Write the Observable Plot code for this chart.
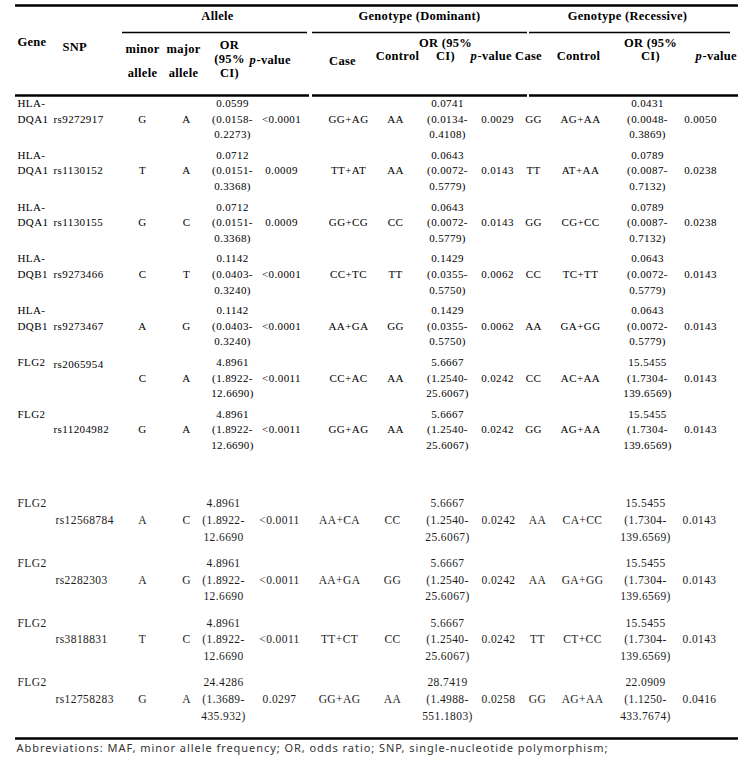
<!DOCTYPE html>
<html><head><meta charset="utf-8">
<script src="https://cdn.jsdelivr.net/npm/d3@7"></script>
<script src="https://cdn.jsdelivr.net/npm/@observablehq/plot@0.6"></script>
<style>body{margin:0;background:#fff} svg{display:block}</style>
</head><body><div id="chart"></div>
<script>
// ---------- data ----------
const genes = ["HLA-DQA1","HLA-DQA1","HLA-DQA1","HLA-DQB1","HLA-DQB1","FLG2","FLG2","FLG2","FLG2","FLG2","FLG2"];
const snps = ["rs9272917","rs1130152","rs1130155","rs9273466","rs9273467","rs2065954","rs11204982","rs12568784","rs2282303","rs3818831","rs12758283"];
const minorAllele = ["G","T","G","C","A","C","G","A","A","T","G"];
const majorAllele = ["A","A","C","T","G","A","A","C","G","C","A"];
const alleleOR = ["0.0599","0.0712","0.0712","0.1142","0.1142","4.8961","4.8961","4.8961","4.8961","4.8961","24.4286"];
const alleleCILow = ["(0.0158-","(0.0151-","(0.0151-","(0.0403-","(0.0403-","(1.8922-","(1.8922-","(1.8922-","(1.8922-","(1.8922-","(1.3689-"];
const alleleCIHigh = ["0.2273)","0.3368)","0.3368)","0.3240)","0.3240)","12.6690)","12.6690)","12.6690","12.6690","12.6690","435.932)"];
const alleleP = ["<0.0001","0.0009","0.0009","<0.0001","<0.0001","<0.0011","<0.0011","<0.0011","<0.0011","<0.0011","0.0297"];
const domCase = ["GG+AG","TT+AT","GG+CG","CC+TC","AA+GA","CC+AC","GG+AG","AA+CA","AA+GA","TT+CT","GG+AG"];
const domControl = ["AA","AA","CC","TT","GG","AA","AA","CC","GG","CC","AA"];
const domOR = ["0.0741","0.0643","0.0643","0.1429","0.1429","5.6667","5.6667","5.6667","5.6667","5.6667","28.7419"];
const domCILow = ["(0.0134-","(0.0072-","(0.0072-","(0.0355-","(0.0355-","(1.2540-","(1.2540-","(1.2540-","(1.2540-","(1.2540-","(1.4988-"];
const domCIHigh = ["0.4108)","0.5779)","0.5779)","0.5750)","0.5750)","25.6067)","25.6067)","25.6067)","25.6067)","25.6067)","551.1803)"];
const domP = ["0.0029","0.0143","0.0143","0.0062","0.0062","0.0242","0.0242","0.0242","0.0242","0.0242","0.0258"];
const recCase = ["GG","TT","GG","CC","AA","CC","GG","AA","AA","TT","GG"];
const recControl = ["AG+AA","AT+AA","CG+CC","TC+TT","GA+GG","AC+AA","AG+AA","CA+CC","GA+GG","CT+CC","AG+AA"];
const recOR = ["0.0431","0.0789","0.0789","0.0643","0.0643","15.5455","15.5455","15.5455","15.5455","15.5455","22.0909"];
const recCILow = ["(0.0048-","(0.0087-","(0.0087-","(0.0072-","(0.0072-","(1.7304-","(1.7304-","(1.7304-","(1.7304-","(1.7304-","(1.1250-"];
const recCIHigh = ["0.3869)","0.7132)","0.7132)","0.5779)","0.5779)","139.6569)","139.6569)","139.6569)","139.6569)","139.6569)","433.7674)"];
const recP = ["0.0050","0.0238","0.0238","0.0143","0.0143","0.0143","0.0143","0.0143","0.0143","0.0143","0.0416"];

const groupHeaders = ["Allele","Genotype (Dominant)","Genotype (Recessive)"];
const columnHeaders = [["Gene"],["SNP"],["minor","allele"],["major","allele"],["OR","(95%","CI)"],["p-value"],["Case"],["Control"],["OR (95%","CI)"],["p-value"],["Case"],["Control"],["OR (95%","CI)"],["p-value"]];
const caption = "Abbreviations: MAF, minor allele frequency; OR, odds ratio; SNP, single-nucleotide polymorphism;";

// ---------- layout (positions only) ----------
const L = {
  width: 755, height: 772,
  ruleL: 15, ruleR: 738,
  topRule: 5, headRule: 95, bottomRule: 738, groupRuleY: 32,
  groupSpans: [[122,307],[312,527],[529,730]],
  headSegs: [[15,309],[312,527],[529,738]],
  groupX: [217,419,627], groupY: 15,
  headX: [17,62,142,183,229,249,342,397,445,470,528,578,650,695],
  headY: [[41],[46],[48,72],[48,72],[44,58,72],[59],[60],[55],[42,55],[55],[55],[55],[42,55],[55]],
  headAnchor: ["start","start","middle","middle","middle","start","middle","middle","middle","start","middle","middle","middle","start"],
  pGap: 7,
  geneX: 17,
  snpLine: [1,1,1,1,1,0.15,1,1,1,1,1],
  captionX: 16, captionY: 748,
  blocks: [
    {from:0, to:7, y0:103, pitch:51.8, line:15.6, size:11, fill:"#000",
     x:{snp:53, minor:142, major:186, or:232, p:281, dcase:348, dctrl:395, dor:447, dp:497, rcase:533, rctrl:580, ror:647, rp:700}},
    {from:7, to:11, y0:503, pitch:59.7, line:16.8, size:11.5, fill:"#1c1c1c",
     x:{snp:55, minor:142, major:186, or:223, p:279, dcase:339, dctrl:392, dor:447, dp:498, rcase:537, rctrl:582, ror:645, rp:699}}
  ],
  spacing: {group: 0.3, head: 0.3, data: 0.4, caption: 0.95}
};

// ---------- build cells ----------
const startCells = [], midCells = [];
genes.forEach((g, i) => {
  const b = L.blocks.find(bl => i >= bl.from && i < bl.to);
  const k = i - b.from;
  const y0 = b.y0 + k * b.pitch;
  const ly = j => y0 + j * b.line;
  const gl = g.startsWith("HLA-") ? [g.slice(0,4), g.slice(4)] : [g];
  gl.forEach((t, j) => startCells.push({x: L.geneX, y: ly(j), text: t, size: b.size, fill: b.fill}));
  startCells.push({x: b.x.snp, y: ly(L.snpLine[i]), text: snps[i], size: b.size, fill: b.fill});
  const single = [["minor", minorAllele], ["major", majorAllele], ["p", alleleP], ["dcase", domCase], ["dctrl", domControl], ["dp", domP], ["rcase", recCase], ["rctrl", recControl], ["rp", recP]];
  single.forEach(([c, arr]) => midCells.push({x: b.x[c], y: ly(1), text: arr[i], size: b.size, fill: b.fill}));
  [["or", alleleOR, alleleCILow, alleleCIHigh], ["dor", domOR, domCILow, domCIHigh], ["ror", recOR, recCILow, recCIHigh]]
    .forEach(([c, a1, a2, a3]) => [a1[i], a2[i], a3[i]].forEach((t, j) =>
      midCells.push({x: b.x[c], y: ly(j), text: t, size: b.size, fill: b.fill})));
});

const headStart = [], headMid = [], headItalic = [];
columnHeaders.forEach((lines, c) => {
  lines.forEach((t, j) => {
    const x = L.headX[c], y = L.headY[c][j];
    if (t === "p-value") {
      headItalic.push({x, y, text: "p"});
      headStart.push({x: x + L.pGap, y, text: "-value"});
    } else if (L.headAnchor[c] === "start") headStart.push({x, y, text: t});
    else headMid.push({x, y, text: t});
  });
});
const groups = groupHeaders.map((t, i) => ({x: L.groupX[i], y: L.groupY, text: t}));

const thickRules = [
  {y: L.topRule, x1: L.ruleL, x2: L.ruleR},
  ...L.headSegs.map(([a, b]) => ({y: L.headRule, x1: a, x2: b})),
  {y: L.bottomRule, x1: L.ruleL, x2: L.ruleR}
];
const thinRules = L.groupSpans.map(([a, b]) => ({y: L.groupRuleY, x1: a, x2: b}));

const serif = "'Liberation Serif', 'Times New Roman', serif";
const chart = Plot.plot({
  width: L.width, height: L.height,
  margin: 0,
  x: {domain: [0, L.width], range: [0, L.width], axis: null},
  y: {domain: [0, L.height], range: [0, L.height], axis: null},
  style: {background: "#fff"},
  marks: [
    Plot.ruleY(thickRules, {y: "y", x1: "x1", x2: "x2", stroke: "#000", strokeWidth: 2.5}),
    Plot.ruleY(thinRules, {y: "y", x1: "x1", x2: "x2", stroke: "#000", strokeWidth: 1.3}),
    Plot.text(groups, {x: "x", y: "y", text: "text", fontFamily: serif, fontWeight: "bold", fontSize: 12.5, fill: "#000"}),
    Plot.text(headMid, {x: "x", y: "y", text: "text", fontFamily: serif, fontWeight: "bold", fontSize: 12.5, fill: "#000"}),
    Plot.text(headStart, {x: "x", y: "y", text: "text", textAnchor: "start", fontFamily: serif, fontWeight: "bold", fontSize: 12.5, fill: "#000"}),
    Plot.text(headItalic, {x: "x", y: "y", text: "text", textAnchor: "start", fontFamily: serif, fontWeight: "bold", fontStyle: "italic", fontSize: 12.5, fill: "#000"}),
    Plot.text(startCells, {x: "x", y: "y", text: "text", fontSize: "size", fill: "fill", textAnchor: "start", fontFamily: serif}),
    Plot.text(midCells, {x: "x", y: "y", text: "text", fontSize: "size", fill: "fill", fontFamily: serif}),
    Plot.text([caption], {x: () => L.captionX, y: () => L.captionY, text: d => d, textAnchor: "start", fontFamily: "'Noto Sans', sans-serif", fontSize: 11, fill: "#333"})
  ]
});
// letter spacing per text layer (same order as the text marks above)
const spacingOrder = [L.spacing.group, L.spacing.head, L.spacing.head, L.spacing.head, L.spacing.data, L.spacing.data, L.spacing.caption];
d3.select(chart).selectAll("g[aria-label='text']").each(function(_, i) {
  if (spacingOrder[i] != null) this.setAttribute("letter-spacing", spacingOrder[i]);
});
document.getElementById("chart").appendChild(chart);
</script>
</body></html>
